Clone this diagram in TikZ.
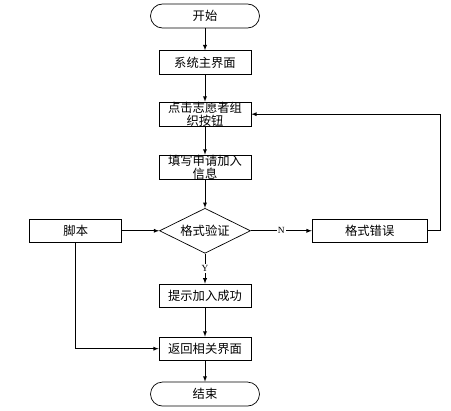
\documentclass[tikz,border=0pt]{standalone}
\usepackage{fontspec}
\setmainfont{Liberation Serif}
\newfontfamily\cjk{Noto Sans CJK SC}
\usepackage{tikz}
\usetikzlibrary{shapes.geometric, arrows, positioning}
\usepackage{xcolor}

\tikzset{
  procbox/.style={draw, rectangle, minimum width=2.76cm, minimum height=0.7cm, inner sep=0pt, align=center, font=\cjk\fontsize{10.5}{11}\selectfont},
  termbox/.style={draw, rectangle, rounded corners=0.36cm, minimum width=3.27cm, minimum height=0.72cm, inner sep=0pt, font=\cjk\fontsize{10.5}{11}\selectfont},
  checkbox/.style={draw, diamond, aspect=2, minimum width=2.73cm, minimum height=1.35cm, inner sep=0pt, font=\cjk\fontsize{10.5}{11}\selectfont},
  flow/.style={-latex, line width=0.6pt},
  edgelabel/.style={fill=white, inner sep=1pt, font=\footnotesize}
}

\begin{document}
\begin{tikzpicture}[line width=0.6pt]
                \useasboundingbox (0,0) rectangle (13.53,-12.33);
                \node (kaishi) [termbox] at (6.15,-0.48) {开始};
                \node (zhujiemian) [below=0.66cm of kaishi, procbox] {系统主界面};
                \node (dianji) [below=0.82cm of zhujiemian, procbox] {点击志愿者组\\织按钮};
                \node (tianxie) [below=0.84cm of dianji, procbox] {填写申请加入\\信息};
                \node (yanzheng) [below=0.85cm of tianxie, checkbox] {格式验证};
                \node (jiaoben) [left=1.11cm of yanzheng, procbox] {脚本};
                \node (cuowu) [right=1.83cm of yanzheng, procbox, minimum width=3.45cm] {格式错误};
                \node (chenggong) [below=0.9cm of yanzheng, procbox] {提示加入成功};
                \node (fanhui) [below=0.87cm of chenggong, procbox] {返回相关界面};
                \node (jieshu) [below=0.63cm of fanhui, termbox] {结束};
                \draw[flow] (kaishi) -- (zhujiemian);
                \draw[flow] (zhujiemian) -- (dianji);
                \draw[flow] (dianji) -- (tianxie);
                \draw[flow] (tianxie) -- (yanzheng);
                \draw[flow] (jiaoben) -- (yanzheng);
                \draw[flow] (yanzheng) -- node[edgelabel] {N} (cuowu);
                \draw[flow] (cuowu.east) -- ++(0.39,0) |- (dianji.east);
                \draw[flow] (yanzheng) -- node[edgelabel] {Y} (chenggong);
                \draw[flow] (chenggong) -- (fanhui);
                \draw[flow] (jiaoben.south) |- (fanhui.west);
                \draw[flow] (fanhui) -- (jieshu);
            \end{tikzpicture}
\end{document}
